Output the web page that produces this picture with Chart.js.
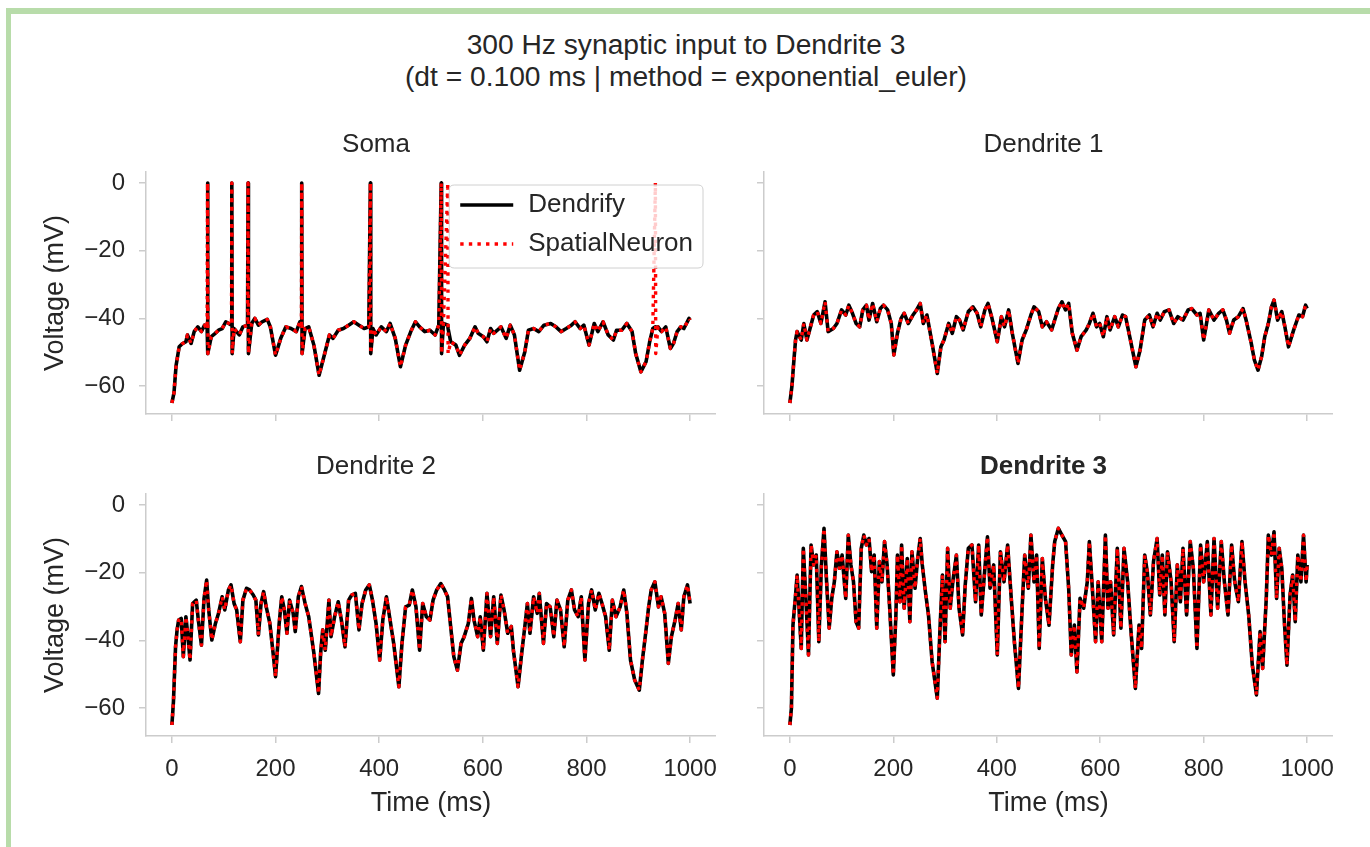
<!DOCTYPE html>
<html>
<head>
<meta charset="utf-8">
<script src="https://cdn.jsdelivr.net/npm/chart.js@4.4.1/dist/chart.umd.min.js"></script>
<style>
html,body{margin:0;padding:0;background:#fff;}
#fig{position:relative;width:1370px;height:847px;overflow:hidden;background:#fff;font-family:'Liberation Sans',Arial,sans-serif;}
.frameTop{position:absolute;left:6px;top:8px;width:1364px;height:6px;background:#b8dcaa;}
.frameLeft{position:absolute;left:6px;top:8px;width:5px;height:839px;background:#b8dcaa;}
#suptitle{position:absolute;left:0;top:28px;width:1372px;text-align:center;font-size:28.2px;line-height:32px;color:#262626;}
canvas{position:absolute;}
</style>
</head>
<body>
<div id="fig">
  <div class="frameTop"></div>
  <div class="frameLeft"></div>
  <div id="suptitle">300 Hz synaptic input to Dendrite 3<br>(dt = 0.100 ms | method = exponential_euler)</div>
  <canvas id="soma" width="680" height="314" style="left:36px;top:110px;"></canvas>
  <canvas id="dend1" width="579" height="314" style="left:754px;top:110px;"></canvas>
  <canvas id="dend2" width="680" height="391" style="left:36px;top:432px;"></canvas>
  <canvas id="dend3" width="579" height="391" style="left:754px;top:432px;"></canvas>
</div>
<script>
// ---------------- data ----------------
const xTickValues = [0, 200, 400, 600, 800, 1000];
const yTickValues = [-60, -40, -20, 0];

const somaTime = [0,4,8,14,20,27,30,37,43,50,57,63,68,68.8,69.5,76,83,90,97,104,110,115,115.6,116.3,120,130,137,146,147,147.7,154,160,167,174,184,190,200,210,220,230,240,247,250,250.5,251.2,257,264,274,284,294,304,311,321,331,341,351,361,371,380,383,383.7,388,394,404,414,421,431,441,451,461,470,478,488,498,508,515,519.7,520.4,524,532.4,533,538,548,555,565,575,585,591,601,608,615,621,628,635,645,653,661,671,681,688,698,708,718,731,741,751,761,771,778,788,795,805,815,822,832,842,852,858,868,878,888,895,905,915,922,928,933,933.7,938,945,953,962,968,975,982,988,998,1000];
const somaDendrify = [-65,-62,-54,-48.4,-47.5,-46.9,-44.9,-47.4,-43.9,-42.5,-43.9,-42,-43,0,-50.4,-45.4,-44.5,-43.5,-43,-41,-41.5,-42,0,-50.4,-43,-44.9,-42.5,-42,0,-50.4,-41.5,-40,-42,-41,-40.3,-42.5,-50.9,-45.9,-42.5,-43,-43.9,-41,-42,0,-50.4,-43,-42.5,-47.9,-56.8,-50.9,-44.9,-45.9,-43.5,-43,-42,-41,-42,-43,-42.5,0,-50.4,-43,-44.9,-42.5,-43.9,-41.5,-45.9,-54.3,-47.9,-43.9,-41,-42.5,-43.9,-43.5,-44.9,-42,0,-50.4,-41.5,-42,-43,-46.9,-47.9,-50.9,-47.9,-45.9,-42.5,-44.4,-45.4,-46.9,-43,-44.4,-43.5,-42.5,-45.9,-42,-44.9,-55.3,-49.9,-43.5,-43,-43.9,-42,-41.5,-42.5,-43.9,-43,-42,-41,-43,-42,-47.9,-41.5,-43.9,-41,-44.9,-46.4,-43.5,-43.5,-41.5,-43.9,-50.4,-55.8,-52.8,-46.9,-43,-42.5,-43,-42.5,-43.9,-42.5,-48.9,-47.4,-43.9,-42.5,-43,-40,-40.5];
const somaSpatialNeuron = [-65,-62,-54,-48.4,-47.5,-46.9,-44.9,-47.4,-43.9,-42.5,-43.9,-42,-43,0,-50.4,-45.4,-44.5,-43.5,-43,-41,-41.5,-42,0,-50.4,-43,-44.9,-42.5,-42,0,-50.4,-41.5,-40,-42,-41,-40.3,-42.5,-50.9,-45.9,-42.5,-43,-43.9,-41,-42,0,-50.4,-43,-42.5,-47.9,-56.8,-50.9,-44.9,-45.9,-43.5,-43,-42,-41,-42,-43,-42.5,0,-50.4,-43,-44.9,-42.5,-43.9,-41.5,-45.9,-54.3,-47.9,-43.9,-41,-42.5,-43.9,-43.5,-44.9,-42,0,-50.4,-41.5,0,-50.4,-46.9,-47.9,-50.9,-47.9,-45.9,-42.5,-44.4,-45.4,-46.9,-43,-44.4,-43.5,-42.5,-45.9,-42,-44.9,-55.3,-49.9,-43.5,-43,-43.9,-42,-41.5,-42.5,-43.9,-43,-42,-41,-43,-42,-47.9,-41.5,-43.9,-41,-44.9,-46.4,-43.5,-43.5,-41.5,-43.9,-50.4,-55.8,-52.8,-46.9,-43,0,-50.4,-42.5,-43.9,-42.5,-48.9,-47.4,-43.9,-42.5,-43,-40,-40.5];

const dend1Time = [0,4,8,11,14,17,22,27,33,39,46,53,60,68,74,84,91,100,108,114,121,128,135,141,148,153,160,168,175,181,189,196,201,208,215,221,229,238,245,252,258,265,275,285,292,298,307,314,322,328,335,345,354,362,369,377,383,390,401,409,415,423,430,441,449,457,466,472,481,488,496,506,512,519,526,533,539,546,555,563,573,579,586,593,599,606,613,619,628,635,643,649,657,669,677,686,695,702,710,716,724,733,742,750,760,770,777,787,793,800,810,820,829,837,844,850,858,867,876,882,892,898,905,912,918,925,931,936,943,951,957,964,974,984,991,997,1000];
const dend1Voltage = [-65,-60,-52,-46.4,-43.9,-44.9,-46.4,-41.5,-46.4,-43,-39,-38,-41.5,-35.1,-43.9,-43,-41.5,-37.5,-39,-36.1,-38.5,-41.5,-42.5,-37.5,-36.1,-40.5,-35.6,-41,-37.1,-36.1,-37.5,-41.5,-50.8,-44.4,-40,-38.5,-41.5,-39,-37.5,-35.6,-41.5,-39,-47.4,-56.3,-48.4,-46.4,-41.5,-44.4,-39.5,-40.5,-43.4,-38,-36.6,-38.5,-42.5,-37.5,-35.6,-39.5,-46.9,-39.5,-42.5,-37.5,-44.4,-53.3,-46.4,-43.4,-39,-36.6,-38,-42.5,-41,-43.4,-40.5,-37.1,-35.1,-37.5,-35.6,-44.4,-49.4,-45.4,-43.4,-41.5,-38.5,-42.5,-41.5,-45.4,-39.5,-43.4,-39.5,-42.5,-39,-39.5,-45.4,-54.3,-49.4,-40.5,-39,-42.5,-38.5,-40.5,-38,-37.5,-41.5,-39.5,-40.5,-37.5,-37.1,-39,-38.5,-46.4,-37.5,-40.5,-38.5,-37.5,-40.5,-44.4,-40.5,-39.5,-37.1,-40.5,-47.4,-52.3,-55.3,-51.3,-45.4,-41.5,-36.6,-34.6,-40.5,-38,-42.5,-48.4,-43.4,-39,-39.5,-36.1,-37.1];

const dend2Time = [0,3,7,10,13,18,22,27,31,35,40,47,51,57,62,67,71,77,84,90,97,102,109,114,120,125,132,137,144,150,157,162,167,172,177,182,189,196,200,207,212,217,222,227,234,238,244,250,257,264,274,283,287,291,296,303,307,314,321,327,334,341,347,354,361,367,374,381,387,394,401,407,414,421,428,438,444,451,458,464,471,478,484,491,498,504,511,519,526,532,538,544,551,558,564,572,578,583,590,595,601,608,615,621,628,635,641,648,655,659,668,675,681,686,691,698,705,709,717,723,730,737,743,750,757,764,771,777,784,790,797,804,810,817,824,830,837,844,850,857,865,872,878,885,893,902,908,915,920,925,932,939,944,951,958,964,971,977,983,988,995,1000];
const dend2Voltage = [-65,-58,-41.9,-36.9,-34,-33.5,-44.8,-33,-38.9,-45.8,-29.1,-28.1,-34,-41.4,-27.6,-22.2,-31,-39.9,-35,-32,-27.1,-31,-25.1,-23.6,-29.1,-31,-40.4,-28.1,-24.6,-25.1,-26.6,-28.1,-38.4,-29.1,-25.6,-30.1,-35,-44.8,-50.7,-35,-27.1,-31,-37.9,-28.1,-32,-37.4,-27.1,-24.1,-29.1,-33,-43.8,-55.7,-43.8,-36.9,-42.9,-28.1,-38.9,-33,-28.6,-34,-41.9,-28.1,-26.6,-26.1,-36.9,-29.1,-25.1,-23.6,-28.1,-35,-45.8,-34,-27.1,-34,-40.9,-53.7,-40.9,-30.1,-29.6,-25.1,-30.1,-42.9,-29.1,-33,-34,-28.1,-25.1,-23.2,-25.1,-27.1,-36,-44.8,-48.8,-40.9,-38.9,-35,-27.6,-34,-38.9,-33,-42.9,-26.1,-38.9,-27.1,-40.9,-26.6,-31,-37.9,-35.9,-42.9,-53.7,-43.8,-36,-29.1,-37.9,-27.1,-32,-26.1,-40.9,-29.1,-30.1,-38.9,-28.1,-31,-41.9,-28.1,-25.1,-31,-33,-27.1,-45.8,-29.1,-25.1,-31,-26.1,-29.1,-33,-42.9,-28.1,-33,-30.1,-25.1,-32,-45.8,-51.7,-54.7,-45.8,-36.9,-30.1,-25.1,-22.7,-30.1,-27.1,-32,-46.8,-38.9,-34,-29.1,-36.9,-27.1,-23.6,-29.1];

const dend3Time = [0,3,6,11,14,17,22,26,31,36,41,46,51,56,61,66,71,76,81,86,91,96,101,108,113,118,123,128,133,138,143,148,153,158,163,168,173,178,183,188,193,200,205,208,213,216,221,227,232,236,242,247,252,256,262,268,275,285,290,295,300,305,310,315,322,327,334,339,345,352,359,365,370,377,382,387,394,401,407,414,421,428,434,442,449,454,461,466,472,477,482,488,494,501,508,512,519,526,533,539,544,550,555,561,568,575,579,586,591,596,603,610,615,620,626,633,640,646,653,660,668,675,680,686,691,697,703,710,715,720,725,730,737,743,749,755,760,767,774,780,787,794,800,807,814,820,827,834,840,847,854,860,867,874,880,887,894,902,909,914,921,925,931,936,941,946,951,956,961,967,972,977,982,988,993,998,1000];
const dend3Voltage = [-65,-60,-35.5,-26.6,-20.7,-28.6,-42.4,-12.8,-27.6,-44.3,-11.8,-17.7,-14.8,-40.4,-17.7,-6.9,-22.7,-36.4,-27.6,-22.7,-13.8,-18.7,-14.8,-27.6,-8.9,-17.7,-22.7,-34.5,-36.4,-12.8,-8.9,-11.8,-9.9,-19.7,-14.8,-36.4,-16.7,-22.7,-10.8,-17.7,-30.5,-50.2,-32.5,-14.8,-28.6,-11.8,-30.5,-15.8,-34.5,-13.8,-24.6,-15.8,-9.9,-17.7,-25.6,-32.5,-46.3,-57.1,-37.4,-20.7,-40.4,-12.8,-30.5,-22.7,-14.8,-30.5,-38.4,-23.6,-12.8,-11.8,-28.6,-11.8,-32.5,-18.7,-9.4,-24.6,-17.7,-44.3,-13.8,-22.7,-11.8,-27.6,-40.4,-54.2,-30.5,-14.8,-24.6,-8.9,-22.7,-14.8,-42.4,-15.8,-27.6,-35.5,-17.7,-10.8,-6.9,-8.9,-10.8,-24.6,-44.3,-35.5,-49.3,-27.6,-30.5,-22.7,-10.8,-27.6,-40.4,-22.7,-40.4,-8.9,-30.5,-22.7,-38.4,-12.8,-36.4,-12.8,-22.7,-38.4,-54.2,-35.5,-42.4,-14.8,-19.7,-32.5,-16.7,-9.9,-26.6,-14.8,-32.5,-13.8,-22.7,-40.4,-17.7,-28.6,-12.8,-32.5,-10.8,-18.7,-42.4,-11.8,-22.7,-10.8,-32.5,-9.9,-30.5,-10.8,-22.7,-32.5,-11.8,-22.7,-28.6,-10.8,-22.7,-32.5,-47.3,-56.1,-37.4,-48.3,-27.6,-8.9,-14.8,-7.9,-27.6,-12.8,-18.7,-34.5,-47.3,-26.6,-20.7,-34.5,-14.8,-22.7,-8.9,-22.7,-17.7];

// ---------------- chart helpers ----------------
const FONT = "'Liberation Sans', Arial, sans-serif";
const TEXT = '#262626';
const SPINE = '#cccccc';
const fmt = v => (v < 0 ? '\u2212' + Math.abs(v) : String(v));
const toPoints = (t, v) => t.map((x, i) => ({ x: x, y: v[i] }));

const insideLegend = {
  id: 'insideLegend',
  afterDatasetsDraw(chart, args, opts) {
    if (!opts || !opts.enabled) return;
    const ctx = chart.ctx, a = chart.chartArea;
    const items = chart.data.datasets;
    ctx.save();
    ctx.font = '26px ' + FONT;
    const tw = Math.max(...items.map(d => ctx.measureText(d.label).width));
    const padL = 11, padR = 10, handle = 53, gap = 15, rowH = 39, h = 83;
    const w = padL + handle + gap + tw + padR;
    const x1 = a.right - 13, x0 = x1 - w, y0 = a.top + 13, r = 5;
    ctx.beginPath();
    ctx.moveTo(x0 + r, y0);
    ctx.lineTo(x1 - r, y0); ctx.quadraticCurveTo(x1, y0, x1, y0 + r);
    ctx.lineTo(x1, y0 + h - r); ctx.quadraticCurveTo(x1, y0 + h, x1 - r, y0 + h);
    ctx.lineTo(x0 + r, y0 + h); ctx.quadraticCurveTo(x0, y0 + h, x0, y0 + h - r);
    ctx.lineTo(x0, y0 + r); ctx.quadraticCurveTo(x0, y0, x0 + r, y0);
    ctx.closePath();
    ctx.fillStyle = 'rgba(255,255,255,0.8)';
    ctx.fill();
    ctx.strokeStyle = '#d0d0d0'; ctx.lineWidth = 1; ctx.stroke();
    items.forEach((d, i) => {
      const cy = y0 + 20 + i * rowH;
      ctx.beginPath();
      ctx.setLineDash(d.borderDash || []);
      ctx.strokeStyle = d.borderColor; ctx.lineWidth = d.borderWidth;
      ctx.moveTo(x0 + padL, cy); ctx.lineTo(x0 + padL + handle, cy); ctx.stroke();
      ctx.setLineDash([]);
      ctx.fillStyle = TEXT; ctx.textBaseline = 'middle'; ctx.textAlign = 'left';
      ctx.fillText(d.label, x0 + padL + handle + gap, cy);
    });
    ctx.restore();
  }
};

function makePanel(id, p) {
  const grid = { display: true, drawOnChartArea: false, drawTicks: true, tickLength: 7, color: SPINE, lineWidth: 1.5 };
  const border = { display: true, color: SPINE, width: 1.5 };
  return new Chart(document.getElementById(id), {
    type: 'line',
    data: {
      datasets: [
        { label: 'Dendrify', data: toPoints(p.time, p.dendrify), borderColor: '#000000', borderWidth: 3.6,
          pointRadius: 0, borderJoinStyle: 'round', tension: 0, order: 1 },
        { label: 'SpatialNeuron', data: toPoints(p.time, p.spatial), borderColor: '#ff0000', borderWidth: 3.4,
          borderDash: [3.4, 5.2], pointRadius: 0, borderJoinStyle: 'round', tension: 0, order: 0 }
      ]
    },
    options: {
      responsive: false, animation: false, devicePixelRatio: 1,
      layout: { padding: 0 },
      events: [],
      plugins: {
        legend: { display: false },
        tooltip: { enabled: false },
        title: { display: true, text: p.title, color: TEXT,
          font: { family: FONT, size: 26, weight: p.bold ? 'bold' : 'normal' },
          padding: { top: 19.4, bottom: 11.4 } },
        insideLegend: { enabled: !!p.legend }
      },
      scales: {
        x: {
          type: 'linear', min: -50, max: 1050,
          afterBuildTicks: s => { s.ticks = xTickValues.map(v => ({ value: v })); },
          ticks: { display: p.showX, color: TEXT, font: { family: FONT, size: 24 }, padding: 12,
            maxRotation: 0, autoSkip: false, callback: v => fmt(v) },
          title: { display: p.showX, text: 'Time (ms)', color: TEXT, font: { family: FONT, size: 27 },
            padding: { top: 0, bottom: 3 } },
          grid: grid, border: border,
          afterFit: s => { s.height = p.xH; s.paddingLeft = 0; s.paddingRight = 0; }
        },
        y: {
          type: 'linear', position: 'left', min: -68.25, max: 3.25,
          afterBuildTicks: s => { s.ticks = yTickValues.map(v => ({ value: v })); },
          ticks: { display: p.showY, color: TEXT, font: { family: FONT, size: 24 }, padding: 14,
            callback: v => fmt(v) },
          title: { display: p.showY, text: 'Voltage (mV)', color: TEXT, font: { family: FONT, size: 27 },
            padding: { top: 3, bottom: 0 } },
          grid: grid, border: border,
          afterFit: s => { s.width = p.yW; s.paddingTop = 0; s.paddingBottom = 0; }
        }
      }
    },
    plugins: [insideLegend]
  });
}

makePanel('soma',  { title: 'Soma', time: somaTime, dendrify: somaDendrify, spatial: somaSpatialNeuron,
  showX: false, showY: true, xH: 10, yW: 110, legend: true });
makePanel('dend1', { title: 'Dendrite 1', time: dend1Time, dendrify: dend1Voltage, spatial: dend1Voltage,
  showX: false, showY: false, xH: 10, yW: 10 });
makePanel('dend2', { title: 'Dendrite 2', time: dend2Time, dendrify: dend2Voltage, spatial: dend2Voltage,
  showX: true, showY: true, xH: 87, yW: 110 });
makePanel('dend3', { title: 'Dendrite 3', bold: true, time: dend3Time, dendrify: dend3Voltage, spatial: dend3Voltage,
  showX: true, showY: false, xH: 87, yW: 10 });
</script>
</body>
</html>
